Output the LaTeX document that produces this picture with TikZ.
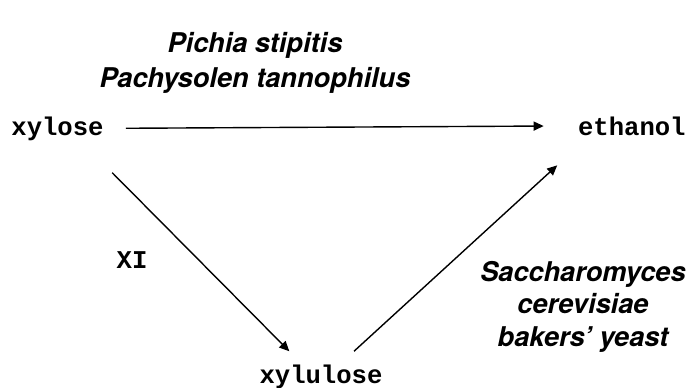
\documentclass[tikz,border=0pt]{standalone}
\usepackage{fontspec}
\setsansfont{TeX Gyre Heros}
\setmonofont{Liberation Mono}
\usetikzlibrary{arrows,arrows.meta}

\begin{document}
\begin{tikzpicture}[x=0.5pt,y=-0.5pt,
obj/.style={font=\ttfamily\bfseries\fontsize{12.8}{15}\selectfont,inner sep=0pt},
species/.style={font=\sffamily\bfseries\itshape\fontsize{13.6}{#1}\selectfont,align=center,inner sep=0pt},
species/.default=17.5,
arrow/.style={-{Triangle[length=5pt,width=4.5pt]},line width=0.7pt} ]

\useasboundingbox (0,0) rectangle (690,387);

\node[obj,anchor=base west] (A) at (11,135) {xylose};

\node[obj,anchor=base east] (B) at (686,135) {ethanol};

\node[obj,anchor=base] (C) at (321,383) {xylulose};

\node[species,anchor=north] (P) at (255,32) {Pichia stipitis\\Pachysolen tannophilus};

\node[species=16.2,anchor=north] (S) at (583,261) {Saccharomyces\\cerevisiae\\bakers' yeast};

\node[obj] (XI) at (132,260) {XI};

\draw[arrow,shorten <=11pt,shorten >=17pt] (A.east) -- (B.west);

\draw[arrow,shorten <=22.5pt,shorten >=9pt] ([xshift=11.5pt]A.south) -- ([xshift=-9.5pt]C.north);

\draw[arrow,shorten <=9.5pt,shorten >=22pt] ([xshift=9.5pt]C.north) -- ([xshift=6pt]B.south west);


\end{tikzpicture}
\end{document}
